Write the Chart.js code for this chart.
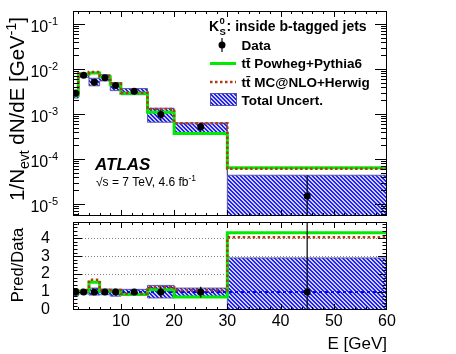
<!DOCTYPE html>
<html>
<head>
<meta charset="utf-8">
<script src="https://cdn.jsdelivr.net/npm/chart.js@4.4.1/dist/chart.umd.min.js"></script>
<style>
  body { margin: 0; background: #fff; }
  #box { position: relative; width: 456px; height: 354px; }
  #box canvas { position: absolute; left: 0; top: 0; }
</style>
</head>
<body>
<div id="box">
  <canvas id="topPad" width="456" height="354"></canvas>
  <canvas id="ratioPad" width="456" height="354"></canvas>
</div>
<script>
// bin edges in E [GeV]
const edges = [1, 2, 4, 6, 8, 10, 15, 20, 30, 60];
// 1/N dN/dE per bin
const dataY = [2.9e-3, 7.3e-3, 5.1e-3, 6.4e-3, 4.3e-3, 3.2e-3, 9.8e-4, 5.2e-4, 1.5e-5];
const dataRelErr = [0.04, 0.03, 0.03, 0.03, 0.03, 0.03, 0.25, 0.22, 1.9];
const powhegY = [2.6e-3, 7.7e-3, 8.2e-3, 6.7e-3, 4.6e-3, 2.9e-3, 1.1e-3, 3.7e-4, 6.4e-5];
const mcnloY = [2.9e-3, 8.0e-3, 8.6e-3, 6.9e-3, 4.8e-3, 2.95e-3, 1.29e-3, 6.2e-4, 6.1e-5];
// total uncertainty band, relative to data
const uncLo = [0.78, 0.9, 0.83, 0.85, 0.77, 0.84, 0.67, 0.7, 0];
const uncHi = [1.17, 1.1, 1.22, 1.17, 1.16, 1.15, 1.37, 1.22, 2.9];
// ratio pad
const ratioPowheg = [0.95, 1.05, 1.55, 1.05, 1.05, 0.87, 1.13, 0.72, 4.3];
const ratioMcnlo = [1.0, 1.12, 1.68, 1.08, 1.12, 0.9, 1.27, 1.1, 4.05];
const ratioErr = [0.1, 0.05, 0.05, 0.05, 0.1, 0.05, 0.3, 0.3, 5];
// axes
const xTicks = [10, 20, 30, 40, 50, 60];
const logTicks = [-5, -4, -3, -2, -1];
const ratioTicks = [0, 1, 2, 3, 4];
const yTopMin = 5.4e-6, yTopMax = 0.195;
const yRatioMax = 4.9;

const FONT = '"Liberation Sans", Arial, Helvetica, sans-serif';
const GREEN = 'rgb(0,235,0)';
const BROWN = 'rgb(175,60,20)';
const BLUE = 'rgb(0,0,255)';
const BAND_EDGE = 'rgba(80,80,150,0.9)';
Chart.defaults.font.family = FONT;
Chart.defaults.color = '#000';

const centers = edges.slice(0, -1).map((e, i) => (e + edges[i + 1]) / 2);
const steps = vals => edges.map((e, i) => ({ x: e, y: vals[Math.min(i, vals.length - 1)] }));
const bars = (lo, hi) => centers.flatMap((c, i) => [{ x: c, y: lo[i] }, { x: c, y: hi[i] }, { x: c, y: null }]);
const dots = vals => centers.map((c, i) => ({ x: c, y: vals[i] }));
const floorTop = v => Math.max(v, yTopMin / 2);

function makeHatch() {
  const c = document.createElement('canvas');
  c.width = c.height = 4;
  const g = c.getContext('2d');
  g.fillStyle = 'rgb(205,205,255)';
  g.fillRect(0, 0, 4, 4);
  g.fillStyle = 'rgb(35,35,240)';
  for (let i = 0; i < 4; i++) { g.fillRect(i, i, 1, 1); g.fillRect((i + 1) % 4, i, 1, 1); }
  return g.createPattern(c, 'repeat');
}
const hatch = makeHatch();

// frame + inward ROOT style ticks on all four sides
function frameTicks(xMaj, xMin, yList, yMaj, yMin) {
  return {
    id: 'frameTicks',
    afterDatasetsDraw(chart) {
      const { ctx, chartArea: a, scales: { x, y } } = chart;
      ctx.save();
      ctx.strokeStyle = '#000';
      ctx.lineWidth = 1;
      ctx.beginPath();
      for (let v = 2; v < 60; v += 2) {
        const px = Math.round(x.getPixelForValue(v)) + 0.5;
        const len = v % 10 === 0 ? xMaj : xMin;
        ctx.moveTo(px, a.bottom); ctx.lineTo(px, a.bottom - len);
        ctx.moveTo(px, a.top); ctx.lineTo(px, a.top + len);
      }
      yList.forEach(([v, major]) => {
        const py = Math.round(y.getPixelForValue(v)) + 0.5;
        if (py < a.top + 1 || py > a.bottom - 1) return;
        const len = major ? yMaj : yMin;
        ctx.moveTo(a.left, py); ctx.lineTo(a.left + len, py);
        ctx.moveTo(a.right, py); ctx.lineTo(a.right - len, py);
      });
      ctx.stroke();
      ctx.strokeRect(Math.round(a.left) + 0.5, Math.round(a.top) + 0.5,
        Math.round(a.right - a.left) - 1, Math.round(a.bottom - a.top) - 1);
      ctx.restore();
    }
  };
}

const logList = [];
for (let p = -6; p <= -1; p++) for (let k = 1; k <= 9; k++) logList.push([k * 10 ** p, k === 1]);
const ratioList = [];
for (let i = 0; i <= 24; i++) ratioList.push([i / 5, i % 5 === 0]);

// draws text pieces along a baseline; returns total width
function rich(ctx, x, y, parts, align) {
  let w = 0;
  parts.forEach(p => { ctx.font = p.f; p.w = ctx.measureText(p.t).width; w += p.w; });
  let cx = align === 'center' ? x - w / 2 : align === 'right' ? x - w : x;
  parts.forEach(p => { ctx.font = p.f; ctx.fillText(p.t, cx, y + (p.dy || 0)); cx += p.w; });
  return w;
}

const topDecor = {
  id: 'topDecor',
  afterDraw(chart) {
    const { ctx, scales: { y } } = chart;
    const ds = chart.data.datasets;
    ctx.save();
    ctx.fillStyle = '#000';
    ctx.textAlign = 'left';
    ctx.textBaseline = 'alphabetic';

    // log tick labels 10^n
    logTicks.forEach(p => {
      const py = y.getPixelForValue(10 ** p);
      rich(ctx, 58, py + 8, [
        { t: '10', f: `16px ${FONT}` },
        { t: String(p), f: `11px ${FONT}`, dy: -7 }
      ], 'right');
    });

    // y title
    ctx.save();
    ctx.translate(24, 109);
    ctx.rotate(-Math.PI / 2);
    rich(ctx, 0, 0, [
      { t: '1/N', f: `20.5px ${FONT}` },
      { t: 'evt', f: `14px ${FONT}`, dy: 5 },
      { t: ' dN/dE [GeV', f: `20.5px ${FONT}` },
      { t: '-1', f: `14px ${FONT}`, dy: -8 },
      { t: ']', f: `20.5px ${FONT}` }
    ], 'center');
    ctx.restore();

    // ATLAS label
    ctx.font = `italic bold 17px ${FONT}`;
    ctx.fillText('ATLAS', 95, 170);
    rich(ctx, 96, 186, [
      { t: '\u221As = 7 TeV, 4.6 fb', f: `12px ${FONT}` },
      { t: '-1', f: `8.5px ${FONT}`, dy: -5 }
    ]);

    // legend
    ctx.font = `bold 14px ${FONT}`;
    ctx.fillText('K', 209, 30.5);
    const kx = 209 + ctx.measureText('K').width + 0.5;
    ctx.font = `bold 9.5px ${FONT}`;
    ctx.fillText('0', kx, 24);
    ctx.fillText('S', kx, 35);
    ctx.font = `bold 14px ${FONT}`;
    ctx.fillText(': inside b-tagged jets', kx + 7, 30.5);

    ctx.font = `bold 13.5px ${FONT}`;
    ctx.fillText('Data', 241.5, 49.5);
    ctx.fillText('tt\u0304 Powheg+Pythia6', 241.5, 68);
    ctx.fillText('tt\u0304 MC@NLO+Herwig', 241.5, 86.5);
    ctx.fillText('Total Uncert.', 241.5, 104.5);

    ctx.strokeStyle = '#000';
    ctx.lineWidth = 1.2;
    ctx.beginPath(); ctx.moveTo(222, 38); ctx.lineTo(222, 52); ctx.stroke();
    ctx.beginPath(); ctx.arc(222, 45, 3.5, 0, 2 * Math.PI); ctx.fill();

    const pw = ds.find(d => d.label === 'Powheg');
    ctx.strokeStyle = pw.borderColor; ctx.lineWidth = pw.borderWidth;
    ctx.beginPath(); ctx.moveTo(210, 63.5); ctx.lineTo(236, 63.5); ctx.stroke();
    const mc = ds.find(d => d.label === 'MC@NLO');
    ctx.strokeStyle = mc.borderColor; ctx.lineWidth = mc.borderWidth; ctx.setLineDash(mc.borderDash);
    ctx.beginPath(); ctx.moveTo(210, 82); ctx.lineTo(236, 82); ctx.stroke();
    ctx.setLineDash([]);
    ctx.fillStyle = hatch;
    ctx.fillRect(210, 93, 27, 13);
    ctx.strokeStyle = BAND_EDGE; ctx.lineWidth = 1;
    ctx.strokeRect(210.5, 93.5, 26, 12);
    ctx.restore();
  }
};

const ratioDecor = {
  id: 'ratioDecor',
  afterDraw(chart) {
    const ctx = chart.ctx;
    ctx.save();
    ctx.fillStyle = '#000';
    ctx.textBaseline = 'alphabetic';
    ctx.save();
    ctx.translate(23, 265);
    ctx.rotate(-Math.PI / 2);
    ctx.textAlign = 'center';
    ctx.font = `16.5px ${FONT}`;
    ctx.fillText('Pred/Data', 0, 0);
    ctx.restore();
    ctx.textAlign = 'right';
    ctx.font = `17px ${FONT}`;
    ctx.fillText('E [GeV]', 387, 349);
    ctx.restore();
  }
};

const line = (label, data, extra) => Object.assign({
  label, data, pointRadius: 0, borderWidth: 1, fill: false, spanGaps: false
}, extra);

// top pad
new Chart(document.getElementById('topPad'), {
  type: 'line',
  data: {
    datasets: [
      line('Data', dots(dataY), { showLine: false, pointRadius: 3.5, pointBackgroundColor: '#000', pointBorderWidth: 0, order: 1 }),
      line('DataErr', bars(dataY.map((v, i) => floorTop(v * (1 - dataRelErr[i]))), dataY.map((v, i) => v * (1 + dataRelErr[i]))),
        { borderColor: '#000', borderWidth: 1.2, order: 2 }),
      line('MC@NLO', steps(mcnloY), { stepped: true, borderColor: BROWN, borderWidth: 2.5, borderDash: [2.5, 2.5], order: 3 }),
      line('Powheg', steps(powhegY), { stepped: true, borderColor: GREEN, borderWidth: 3, order: 4 }),
      line('UncHi', steps(dataY.map((v, i) => v * uncHi[i])), { stepped: true, fill: '+1', backgroundColor: hatch, borderColor: BAND_EDGE, order: 5 }),
      line('UncLo', steps(dataY.map((v, i) => floorTop(v * uncLo[i]))), { stepped: true, borderColor: BAND_EDGE, order: 5 })
    ]
  },
  options: {
    responsive: false,
    animation: false,
    layout: { padding: { left: 0, top: 11, right: 69, bottom: 138 } },
    plugins: { legend: { display: false }, tooltip: { enabled: false }, filler: { drawTime: 'beforeDatasetsDraw' } },
    scales: {
      x: {
        type: 'linear', min: edges[0], max: edges[edges.length - 1],
        ticks: { display: false }, grid: { display: false, drawTicks: false }, border: { display: false },
        afterFit: s => { s.height = 0; }
      },
      y: {
        type: 'logarithmic', min: yTopMin, max: yTopMax,
        ticks: { display: false }, grid: { display: false, drawTicks: false }, border: { display: false },
        afterFit: s => { s.width = 73; }
      }
    }
  },
  plugins: [frameTicks(6, 3, logList, 12, 6), topDecor]
});

// ratio pad
new Chart(document.getElementById('ratioPad'), {
  type: 'line',
  data: {
    datasets: [
      line('Data', dots(dataY.map(() => 1)), { showLine: false, pointRadius: 3.5, pointBackgroundColor: '#000', pointBorderWidth: 0, order: 1 }),
      line('DataErr', bars(ratioErr.map(e => 1 - e), ratioErr.map(e => 1 + e)), { borderColor: '#000', borderWidth: 1.2, order: 2 }),
      line('MC@NLO', steps(ratioMcnlo), { stepped: true, borderColor: BROWN, borderWidth: 2.5, borderDash: [2.5, 2.5], order: 3 }),
      line('Powheg', steps(ratioPowheg), { stepped: true, borderColor: GREEN, borderWidth: 3, order: 4 }),
      line('Unity', [{ x: edges[0], y: 1 }, { x: edges[edges.length - 1], y: 1 }], { borderColor: BLUE, borderWidth: 2, borderDash: [3, 3], order: 4.5 }),
      line('UncHi', steps(uncHi), { stepped: true, fill: '+1', backgroundColor: hatch, borderColor: BAND_EDGE, order: 5 }),
      line('UncLo', steps(uncLo), { stepped: true, borderColor: BAND_EDGE, order: 5 })
    ]
  },
  options: {
    responsive: false,
    animation: false,
    layout: { padding: { left: 0, top: 222, right: 69, bottom: 0 } },
    plugins: { legend: { display: false }, tooltip: { enabled: false }, filler: { drawTime: 'beforeDatasetsDraw' } },
    scales: {
      x: {
        type: 'linear', min: edges[0], max: edges[edges.length - 1],
        afterBuildTicks: s => { s.ticks = xTicks.map(v => ({ value: v })); },
        ticks: { font: { size: 16 }, padding: 2, maxRotation: 0, autoSkip: false },
        grid: { display: false, drawTicks: false }, border: { display: false },
        afterFit: s => { s.height = 44; }
      },
      y: {
        min: 0, max: yRatioMax,
        afterBuildTicks: s => { s.ticks = ratioTicks.map(v => ({ value: v })); },
        ticks: { font: { size: 16 }, padding: 23, autoSkip: false },
        grid: { drawTicks: false, lineWidth: 1, color: c => (c.tick && c.tick.value >= 2) ? 'rgba(0,0,0,0.5)' : 'rgba(0,0,0,0)' },
        border: { display: false, dash: [1, 2] },
        afterFit: s => { s.width = 73; }
      }
    }
  },
  plugins: [frameTicks(6, 3, ratioList, 9, 4.5), ratioDecor]
});
</script>
</body>
</html>
